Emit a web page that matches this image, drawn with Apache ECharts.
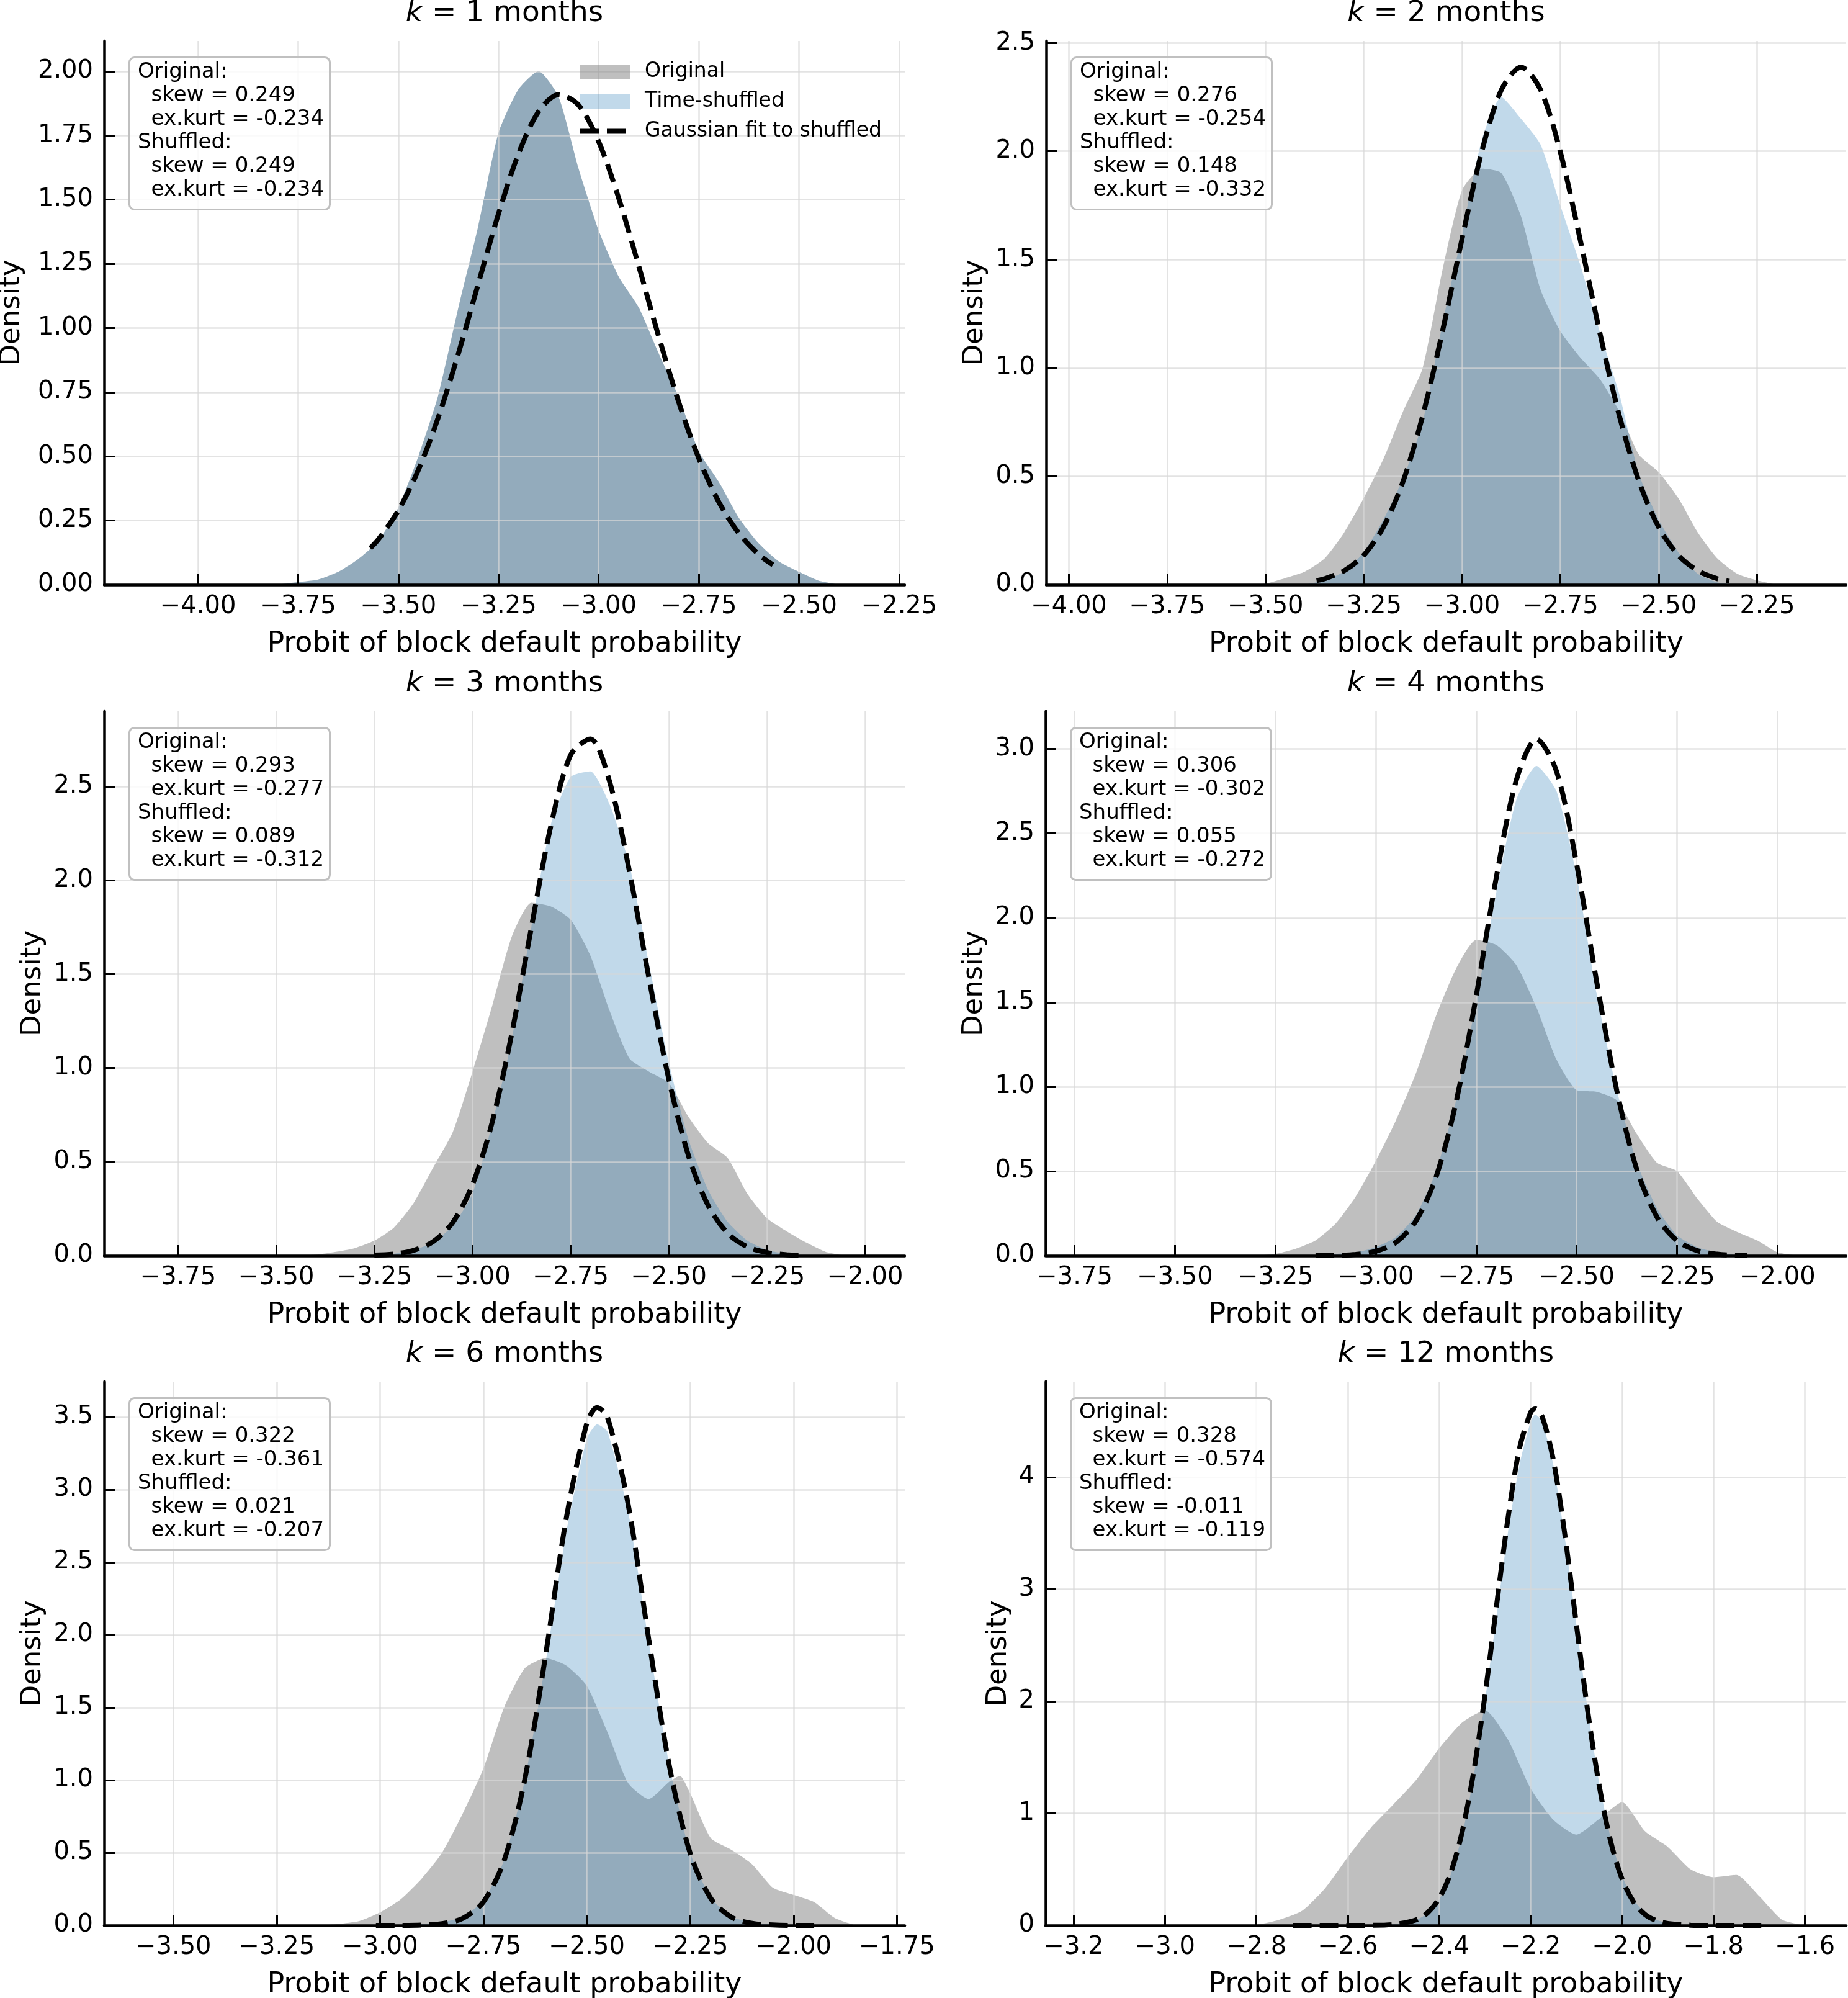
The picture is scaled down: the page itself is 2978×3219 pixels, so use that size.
<!DOCTYPE html>
<html>
<head>
<meta charset="utf-8">
<script src="https://cdn.jsdelivr.net/npm/echarts@6/dist/echarts.min.js"></script>
<style>
  html, body { margin: 0; padding: 0; background: #fff; }
  #chart { width: 2978px; height: 3219px; }
</style>
</head>
<body>
<div id="chart"></div>
<script>
// horizon in months for each panel
const months = [1, 2, 3, 4, 6, 12];

// moments printed in the boxes
const skewOrig = ['0.249', '0.276', '0.293', '0.306', '0.322', '0.328'];
const kurtOrig = ['-0.234', '-0.254', '-0.277', '-0.302', '-0.361', '-0.574'];
const skewShuf = ['0.249', '0.148', '0.089', '0.055', '0.021', '-0.011'];
const kurtShuf = ['-0.234', '-0.332', '-0.312', '-0.272', '-0.207', '-0.119'];

// tick labels
const xTicksA = [-4.00, -3.75, -3.50, -3.25, -3.00, -2.75, -2.50, -2.25];
const xTicksB = [-3.75, -3.50, -3.25, -3.00, -2.75, -2.50, -2.25, -2.00];
const xTicksC = [-3.50, -3.25, -3.00, -2.75, -2.50, -2.25, -2.00, -1.75];
const xTicksD = [-3.2, -3.0, -2.8, -2.6, -2.4, -2.2, -2.0, -1.8, -1.6];
const yTicks1 = [0, 0.25, 0.5, 0.75, 1.0, 1.25, 1.5, 1.75, 2.0];
const yTicks2 = [0, 0.5, 1.0, 1.5, 2.0, 2.5];
const yTicks4 = [0, 0.5, 1.0, 1.5, 2.0, 2.5, 3.0];
const yTicks5 = [0, 0.5, 1.0, 1.5, 2.0, 2.5, 3.0, 3.5];
const yTicks6 = [0, 1, 2, 3, 4];

// histogram densities [probit, density]
const orig1 = [[-3.80,0],[-3.75,0.01],[-3.70,0.02],[-3.65,0.05],[-3.60,0.10],[-3.55,0.17],[-3.50,0.30],[-3.45,0.50],[-3.40,0.74],[-3.35,1.08],[-3.30,1.40],[-3.25,1.76],[-3.20,1.93],[-3.15,2.00],[-3.10,1.90],[-3.05,1.62],[-3.00,1.38],[-2.95,1.20],[-2.90,1.08],[-2.85,0.90],[-2.80,0.73],[-2.75,0.52],[-2.70,0.40],[-2.65,0.26],[-2.60,0.16],[-2.55,0.09],[-2.50,0.05],[-2.45,0.015],[-2.40,0]];
const shuf1 = [[-3.80,0],[-3.75,0.01],[-3.70,0.02],[-3.65,0.05],[-3.60,0.10],[-3.55,0.17],[-3.50,0.30],[-3.45,0.50],[-3.40,0.74],[-3.35,1.08],[-3.30,1.40],[-3.25,1.76],[-3.20,1.93],[-3.15,2.00],[-3.10,1.90],[-3.05,1.62],[-3.00,1.38],[-2.95,1.20],[-2.90,1.08],[-2.85,0.90],[-2.80,0.73],[-2.75,0.52],[-2.70,0.40],[-2.65,0.26],[-2.60,0.16],[-2.55,0.09],[-2.50,0.05],[-2.45,0.015],[-2.40,0]];
const gauss1 = [[-3.57,0.142],[-3.55,0.176],[-3.50,0.289],[-3.45,0.447],[-3.40,0.653],[-3.35,0.901],[-3.30,1.175],[-3.25,1.445],[-3.20,1.679],[-3.15,1.843],[-3.10,1.909],[-3.05,1.868],[-3.00,1.726],[-2.95,1.506],[-2.90,1.241],[-2.85,0.966],[-2.80,0.710],[-2.75,0.492],[-2.70,0.322],[-2.65,0.200],[-2.60,0.117],[-2.565,0.077]];

const orig2 = [[-3.55,0],[-3.50,0.005],[-3.45,0.03],[-3.40,0.06],[-3.35,0.12],[-3.30,0.24],[-3.25,0.40],[-3.20,0.58],[-3.15,0.80],[-3.10,1.00],[-3.05,1.45],[-3.00,1.82],[-2.95,1.92],[-2.90,1.90],[-2.85,1.70],[-2.80,1.36],[-2.75,1.17],[-2.70,1.05],[-2.65,0.95],[-2.60,0.80],[-2.55,0.60],[-2.50,0.52],[-2.45,0.40],[-2.40,0.24],[-2.35,0.12],[-2.30,0.05],[-2.25,0.02],[-2.20,0]];
const shuf2 = [[-3.40,0],[-3.35,0.02],[-3.30,0.06],[-3.25,0.15],[-3.20,0.30],[-3.15,0.49],[-3.10,0.75],[-3.05,1.20],[-3.00,1.62],[-2.95,2.05],[-2.90,2.25],[-2.85,2.15],[-2.80,2.03],[-2.75,1.75],[-2.70,1.48],[-2.65,1.17],[-2.60,0.88],[-2.55,0.51],[-2.50,0.30],[-2.45,0.15],[-2.40,0.05],[-2.35,0.01],[-2.30,0]];
const gauss2 = [[-3.37,0.019],[-3.35,0.027],[-3.30,0.064],[-3.25,0.136],[-3.20,0.266],[-3.15,0.477],[-3.10,0.780],[-3.05,1.167],[-3.00,1.596],[-2.95,1.997],[-2.90,2.283],[-2.85,2.388],[-2.80,2.283],[-2.75,1.997],[-2.70,1.596],[-2.65,1.167],[-2.60,0.780],[-2.55,0.477],[-2.50,0.266],[-2.45,0.136],[-2.40,0.064],[-2.35,0.027],[-2.32,0.016]];

const orig3 = [[-3.45,0],[-3.40,0.005],[-3.35,0.02],[-3.30,0.04],[-3.25,0.08],[-3.20,0.15],[-3.15,0.28],[-3.10,0.47],[-3.05,0.66],[-3.00,0.98],[-2.95,1.33],[-2.90,1.70],[-2.85,1.88],[-2.80,1.86],[-2.75,1.79],[-2.70,1.60],[-2.65,1.30],[-2.60,1.05],[-2.55,0.98],[-2.50,0.92],[-2.45,0.74],[-2.40,0.60],[-2.35,0.52],[-2.30,0.33],[-2.25,0.20],[-2.20,0.13],[-2.15,0.07],[-2.10,0.02],[-2.05,0]];
const shuf3 = [[-3.25,0],[-3.20,0.01],[-3.15,0.03],[-3.10,0.07],[-3.05,0.16],[-3.00,0.33],[-2.95,0.70],[-2.90,1.15],[-2.85,1.75],[-2.80,2.30],[-2.75,2.55],[-2.70,2.58],[-2.65,2.40],[-2.60,2.08],[-2.55,1.55],[-2.50,1.03],[-2.45,0.62],[-2.40,0.35],[-2.35,0.18],[-2.30,0.08],[-2.25,0.03],[-2.20,0.01],[-2.15,0]];
const gauss3 = [[-3.25,0.003],[-3.20,0.009],[-3.15,0.028],[-3.10,0.075],[-3.05,0.178],[-3.00,0.378],[-2.95,0.710],[-2.90,1.183],[-2.85,1.749],[-2.80,2.294],[-2.75,2.668],[-2.70,2.753],[-2.65,2.519],[-2.60,2.044],[-2.55,1.472],[-2.50,0.940],[-2.45,0.533],[-2.40,0.268],[-2.35,0.119],[-2.30,0.047],[-2.25,0.017],[-2.20,0.005],[-2.165,0.002]];

const orig4 = [[-3.30,0],[-3.25,0.01],[-3.20,0.04],[-3.15,0.09],[-3.10,0.19],[-3.05,0.35],[-3.00,0.56],[-2.95,0.80],[-2.90,1.08],[-2.85,1.42],[-2.80,1.70],[-2.75,1.87],[-2.70,1.84],[-2.65,1.72],[-2.60,1.47],[-2.55,1.16],[-2.50,0.98],[-2.45,0.97],[-2.40,0.92],[-2.35,0.72],[-2.30,0.55],[-2.25,0.50],[-2.20,0.34],[-2.15,0.20],[-2.10,0.14],[-2.05,0.09],[-2.00,0.02],[-1.95,0]];
const shuf4 = [[-3.15,0],[-3.10,0.01],[-3.05,0.02],[-3.00,0.05],[-2.95,0.11],[-2.90,0.24],[-2.85,0.50],[-2.80,0.92],[-2.75,1.50],[-2.70,2.15],[-2.65,2.70],[-2.60,2.90],[-2.55,2.75],[-2.50,2.25],[-2.45,1.55],[-2.40,0.98],[-2.35,0.55],[-2.30,0.28],[-2.25,0.12],[-2.20,0.05],[-2.15,0.02],[-2.10,0]];
const gauss4 = [[-3.15,0],[-3.10,0.002],[-3.05,0.007],[-3.00,0.026],[-2.95,0.078],[-2.90,0.206],[-2.85,0.466],[-2.80,0.910],[-2.75,1.537],[-2.70,2.239],[-2.65,2.816],[-2.60,3.058],[-2.55,2.867],[-2.50,2.319],[-2.45,1.621],[-2.40,0.977],[-2.35,0.509],[-2.30,0.229],[-2.25,0.089],[-2.20,0.030],[-2.15,0.009],[-2.10,0.002],[-2.075,0.001]];

const orig5 = [[-3.15,0],[-3.10,0.01],[-3.05,0.03],[-3.00,0.09],[-2.95,0.18],[-2.90,0.32],[-2.85,0.50],[-2.80,0.77],[-2.75,1.08],[-2.70,1.50],[-2.65,1.77],[-2.60,1.84],[-2.55,1.79],[-2.50,1.65],[-2.45,1.33],[-2.40,0.98],[-2.35,0.87],[-2.30,0.99],[-2.275,1.03],[-2.25,0.91],[-2.20,0.60],[-2.15,0.52],[-2.10,0.42],[-2.05,0.26],[-2.00,0.21],[-1.95,0.16],[-1.90,0.05],[-1.85,0]];
const shuf5 = [[-2.95,0],[-2.90,0.01],[-2.85,0.02],[-2.80,0.06],[-2.75,0.17],[-2.70,0.45],[-2.65,1.00],[-2.60,1.80],[-2.55,2.70],[-2.50,3.35],[-2.475,3.45],[-2.45,3.40],[-2.40,2.85],[-2.35,1.95],[-2.30,1.10],[-2.25,0.50],[-2.20,0.19],[-2.15,0.06],[-2.10,0.02],[-2.05,0.005],[-2.00,0]];
const gauss5 = [[-3.01,0],[-2.95,0],[-2.90,0.002],[-2.85,0.012],[-2.80,0.048],[-2.75,0.162],[-2.70,0.446],[-2.65,1.005],[-2.60,1.853],[-2.55,2.797],[-2.50,3.457],[-2.475,3.566],[-2.45,3.499],[-2.40,2.900],[-2.35,1.967],[-2.30,1.093],[-2.25,0.497],[-2.20,0.185],[-2.15,0.056],[-2.10,0.014],[-2.05,0.003],[-2.00,0],[-1.95,0]];

const orig6 = [[-2.85,0],[-2.80,0.005],[-2.75,0.05],[-2.70,0.13],[-2.65,0.33],[-2.60,0.61],[-2.55,0.87],[-2.50,1.08],[-2.45,1.30],[-2.40,1.58],[-2.35,1.81],[-2.30,1.92],[-2.25,1.66],[-2.20,1.22],[-2.15,0.94],[-2.10,0.81],[-2.05,0.95],[-2.00,1.10],[-1.95,0.84],[-1.90,0.70],[-1.85,0.50],[-1.80,0.43],[-1.75,0.45],[-1.70,0.26],[-1.65,0.05],[-1.60,0]];
const shuf6 = [[-2.55,0],[-2.50,0.01],[-2.45,0.05],[-2.425,0.11],[-2.40,0.23],[-2.375,0.45],[-2.35,0.80],[-2.325,1.32],[-2.30,2.00],[-2.275,2.75],[-2.25,3.50],[-2.225,4.10],[-2.20,4.50],[-2.19,4.56],[-2.175,4.50],[-2.15,4.10],[-2.125,3.45],[-2.10,2.68],[-2.075,1.92],[-2.05,1.27],[-2.025,0.78],[-2.00,0.44],[-1.975,0.23],[-1.95,0.11],[-1.925,0.05],[-1.90,0.02],[-1.85,0]];
const gauss6 = [[-2.72,0],[-2.65,0],[-2.55,0.001],[-2.50,0.008],[-2.45,0.050],[-2.425,0.115],[-2.40,0.242],[-2.375,0.468],[-2.35,0.833],[-2.325,1.364],[-2.30,2.053],[-2.275,2.844],[-2.25,3.624],[-2.225,4.248],[-2.20,4.580],[-2.19,4.611],[-2.175,4.542],[-2.15,4.145],[-2.125,3.478],[-2.10,2.685],[-2.075,1.905],[-2.05,1.244],[-2.025,0.748],[-2.00,0.413],[-1.975,0.210],[-1.95,0.098],[-1.925,0.042],[-1.90,0.017],[-1.85,0.002],[-1.80,0],[-1.69,0]];

const origAll = [orig1, orig2, orig3, orig4, orig5, orig6];
const shufAll = [shuf1, shuf2, shuf3, shuf4, shuf5, shuf6];
const gaussAll = [gauss1, gauss2, gauss3, gauss4, gauss5, gauss6];

// axis ranges
const xRange = [[-4.234, -2.236], [-4.0576, -2.023], [-3.938, -1.899], [-3.822, -1.829], [-3.667, -1.731], [-3.261, -1.510]];
const yMax = [2.118, 2.509, 2.90, 3.223, 3.744, 4.853];
const xTicks = [xTicksA, xTicksA, xTicksB, xTicksB, xTicksC, xTicksD];
const yTicks = [yTicks1, yTicks2, yTicks2, yTicks4, yTicks5, yTicks6];
const xDec = [2, 2, 2, 2, 2, 1];
const yDec = [2, 1, 1, 1, 1, 0];

// layout of the six panels (px)
const layout = [
  {left: 168, top: 66, width: 1290, height: 876},
  {left: 1686, top: 66, width: 1289, height: 876},
  {left: 168, top: 1146, width: 1290, height: 877},
  {left: 1685, top: 1146, width: 1290, height: 877},
  {left: 168, top: 2226, width: 1290, height: 876},
  {left: 1685, top: 2226, width: 1290, height: 876}
];
const yNameGap = [126, 92, 92, 92, 92, 53];

const FONT = 'DejaVu Sans';
const GRAY = 'rgba(128,128,128,0.5)';
const BLUE = 'rgba(31,119,180,0.28)';
const DASH = [30, 13];

function fmt(v, d) {
  const s = Math.abs(v).toFixed(d);
  return (v < -1e-9 ? '\u2212' : '') + s;
}

const chart = echarts.init(document.getElementById('chart'), null, {renderer: 'canvas', width: 2978, height: 3219});

const series = [];
months.forEach(function (m, i) {
  series.push({
    type: 'line', name: 'Original', xAxisIndex: i, yAxisIndex: i, data: origAll[i],
    symbol: 'none', smooth: 0.2, silent: true, z: 2,
    lineStyle: {width: 0}, itemStyle: {color: GRAY},
    areaStyle: {color: GRAY, opacity: 1}
  });
  series.push({
    type: 'line', name: 'Time-shuffled', xAxisIndex: i, yAxisIndex: i, data: shufAll[i],
    symbol: 'none', smooth: 0.2, silent: true, z: 2,
    lineStyle: {width: 0}, itemStyle: {color: BLUE},
    areaStyle: {color: BLUE, opacity: 1}
  });
  series.push({
    type: 'line', name: 'Gaussian fit to shuffled', xAxisIndex: i, yAxisIndex: i, data: gaussAll[i],
    symbol: 'none', smooth: 0.3, silent: true, z: 5,
    itemStyle: {color: '#000'},
    lineStyle: {color: '#000', width: 8, type: DASH}
  });
});

const option = {
  animation: false,
  backgroundColor: '#ffffff',
  grid: layout.map(function (g) {
    return {left: g.left, top: g.top, width: g.width, height: g.height, containLabel: false, outerBoundsMode: 'none'};
  }),
  xAxis: layout.map(function (g, i) {
    return {
      type: 'value', gridIndex: i, min: xRange[i][0], max: xRange[i][1], z: 3,
      name: 'Probit of block default probability', nameLocation: 'middle', nameGap: 73,
      nameTextStyle: {fontFamily: FONT, fontSize: 46, color: '#000'},
      axisLine: {show: true, onZero: false, lineStyle: {color: '#000', width: 4.5}},
      axisTick: {show: true, inside: true, length: 17, customValues: xTicks[i], lineStyle: {color: '#000', width: 3}},
      axisLabel: {show: true, margin: 16, customValues: xTicks[i], fontFamily: FONT, fontSize: 40, color: '#000',
        formatter: function (v) { return fmt(v, xDec[i]); }},
      splitLine: {show: true, lineStyle: {color: 'rgba(215,215,215,0.7)', width: 2.5}}
    };
  }),
  yAxis: layout.map(function (g, i) {
    return {
      type: 'value', gridIndex: i, min: 0, max: yMax[i], z: 3,
      name: 'Density', nameLocation: 'middle', nameGap: yNameGap[i], nameRotate: 90,
      nameTextStyle: {fontFamily: FONT, fontSize: 45, color: '#000'},
      axisLine: {show: true, onZero: false, lineStyle: {color: '#000', width: 4.5}},
      axisTick: {show: true, inside: true, length: 17, customValues: yTicks[i], lineStyle: {color: '#000', width: 3}},
      axisLabel: {show: true, margin: 18, customValues: yTicks[i], fontFamily: FONT, fontSize: 40, color: '#000',
        formatter: function (v) { return fmt(v, yDec[i]); }},
      splitLine: {show: true, lineStyle: {color: 'rgba(215,215,215,0.7)', width: 2.5}}
    };
  }),
  legend: {
    left: 926, top: 94, orient: 'vertical', selectedMode: false,
    itemWidth: 80, itemHeight: 23, itemGap: 15,
    textStyle: {fontFamily: FONT, fontSize: 33, color: '#000', padding: [0, 0, 0, 19]},
    data: [
      {name: 'Original', icon: 'rect', itemStyle: {color: GRAY}},
      {name: 'Time-shuffled', icon: 'rect', itemStyle: {color: BLUE}},
      {name: 'Gaussian fit to shuffled',
        itemStyle: {color: 'rgba(0,0,0,0)', borderWidth: 0},
        lineStyle: {color: '#000', width: 8, type: DASH}}
    ]
  },
  // the moment boxes
  title: layout.map(function (g, i) {
    return {
      text: 'Original:\n  skew = ' + skewOrig[i] + '\n  ex.kurt = ' + kurtOrig[i] +
            '\nShuffled:\n  skew = ' + skewShuf[i] + '\n  ex.kurt = ' + kurtShuf[i],
      left: g.left + 40, top: g.top + 26,
      padding: [5, 10, 13, 14],
      backgroundColor: 'rgba(255,255,255,0.8)',
      borderColor: '#c0c0c0', borderWidth: 3, borderRadius: 8,
      textStyle: {fontFamily: FONT, fontSize: 34, fontWeight: 'normal', lineHeight: 38, color: '#000'}
    };
  }),
  // panel titles
  graphic: layout.map(function (g, i) {
    return {
      type: 'text', x: g.left + g.width / 2, y: g.top - 44, silent: true,
      style: {
        text: '{i|k} = ' + months[i] + ' months',
        fontFamily: FONT, fontSize: 47, fill: '#000',
        align: 'center', verticalAlign: 'middle',
        rich: {i: {fontFamily: FONT, fontSize: 47, fontStyle: 'italic', fill: '#000'}}
      }
    };
  }),
  series: series
};

chart.setOption(option);
</script>
</body>
</html>
